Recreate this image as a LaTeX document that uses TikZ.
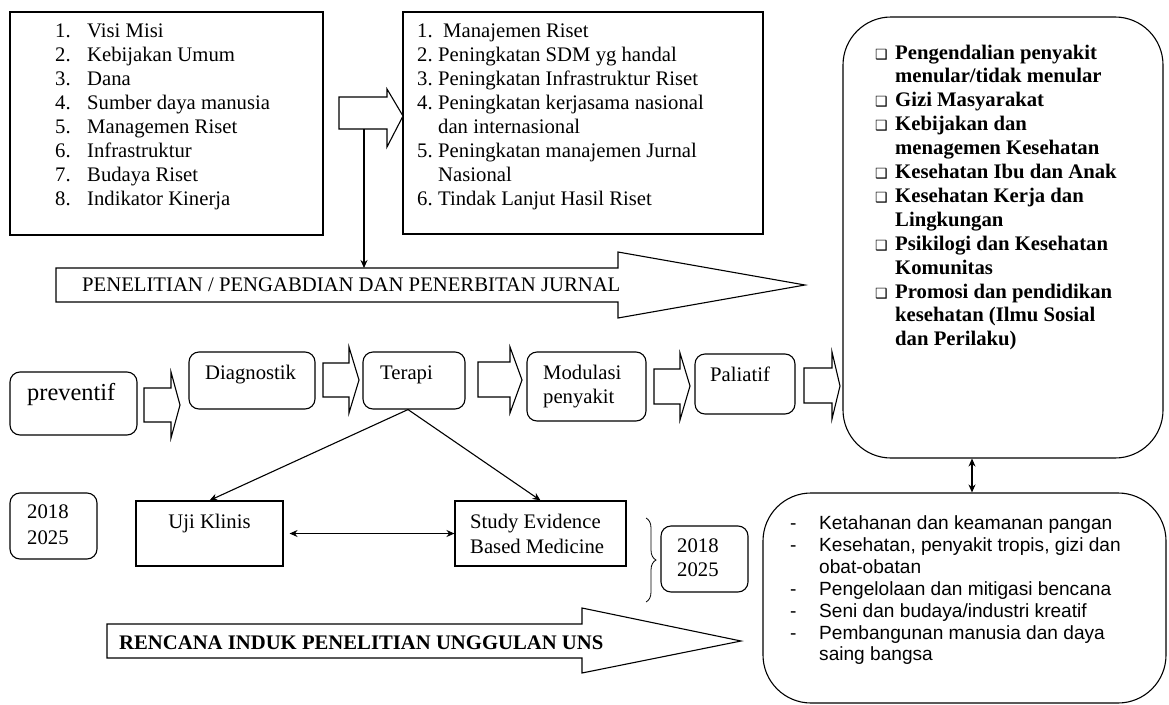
\documentclass[tikz,border=0pt]{standalone}
\usepackage{fontspec}
\setmainfont{Liberation Serif}
\setsansfont{Liberation Sans}
\newfontfamily\glyphfont{DejaVu Sans}
\usetikzlibrary{arrows.meta,decorations.pathreplacing}

\begin{document}
\begin{tikzpicture}[x=1pt,y=-1pt,>={Stealth[length=8pt,width=7pt]},
  every node/.style={inner sep=0pt,font=\fontsize{20.7}{24}\selectfont},
  frame/.style={draw,line width=1.1pt},
  soft/.style={draw,line width=1.1pt,rounded corners=10pt},
  bigsoft/.style={draw,line width=1.1pt,rounded corners=48pt},
  hollow/.style={draw,line width=1.1pt,fill=white,line join=miter},
  conn/.style={line width=1.1pt}]
  \useasboundingbox (0,0) rectangle (1169,704);

  % the two lists on top
  \node[frame,minimum width=313,minimum height=223] (faktor) at (166.5,123.5) {};
  \foreach \i/\txt in {1/Visi Misi, 2/Kebijakan Umum, 3/Dana, 4/Sumber daya manusia,
                       5/Managemen Riset, 6/Infrastruktur, 7/Budaya Riset, 8/Indikator Kinerja} {
    \node[anchor=base west] (faktor-n\i) at (55,13+24*\i) {\i.};
    \node[anchor=base west] (faktor-\i) at (87,13+24*\i) {\txt};
  }

  \node[frame,minimum width=360,minimum height=222] (program) at (583,123) {};
  \foreach \i/\num/\txt in {1/1./{\hspace{5pt}Manajemen Riset}, 2/2./Peningkatan SDM yg handal,
                            3/3./Peningkatan Infrastruktur Riset, 4/4./Peningkatan kerjasama nasional,
                            5/{}/dan internasional, 6/5./Peningkatan manajemen Jurnal,
                            7/{}/Nasional, 8/6./Tindak Lanjut Hasil Riset} {
    \node[anchor=base west] (program-n\i) at (417,13+24*\i) {\num};
    \node[anchor=base west] (program-\i) at (438,13+24*\i) {\txt};
  }

  % hollow block arrows
  \foreach \sx/\st/\sb/\hx/\ht/\hb/\tx/\ty in {339/97/129/387/89/147/403/116,
      144/388/422/171/372/438/180/405, 323/363/397/349/347/413/359/380,
      478/362/397/510/347/413/522/380, 654/369/404/680/353/420/690/386,
      804/368/403/832/352/419/840/386, 56/268/302/618/252/318/805/285,
      107/624/658/582/608/673/741/641}
    \draw[hollow] (\sx,\st) -- (\hx,\st) -- (\hx,\ht) -- (\tx,\ty) -- (\hx,\hb) -- (\hx,\sb) -- (\sx,\sb) -- cycle;

  \node[anchor=base west] (jurnal) at (82,291) {PENELITIAN / PENGABDIAN DAN PENERBITAN JURNAL};
  \node[anchor=base west,font=\fontsize{20.7}{24}\selectfont\bfseries] (rencana) at (119,649)
    {RENCANA INDUK PENELITIAN UNGGULAN UNS};

  % arrow down into the big arrow
  \coordinate (pivot) at (364,129);
  \coordinate (jurnal-top) at (364,268);
  \draw[conn,->] (pivot) -- (jurnal-top);

  % process row
  \node[soft,minimum width=127,minimum height=63] (preventif) at (73.5,403.5) {};
  \node[anchor=base west,font=\fontsize{24.4}{28}\selectfont] (preventif-txt) at (27,400) {preventif};
  \node[soft,minimum width=126,minimum height=57] (diagnostik) at (252,380.5) {};
  \node[anchor=base west] (diagnostik-txt) at (205,379) {Diagnostik};
  \node[soft,minimum width=102,minimum height=57] (terapi) at (414,380.5) {};
  \node[anchor=base west] (terapi-txt) at (380,379) {Terapi};
  \node[soft,minimum width=119,minimum height=69] (modulasi) at (586.5,386.5) {};
  \node[anchor=base west] (modulasi-txt) at (543,379) {Modulasi};
  \node[anchor=base west] (modulasi-txt2) at (543,403) {penyakit};
  \node[soft,minimum width=100,minimum height=60] (paliatif) at (745,384) {};
  \node[anchor=base west] (paliatif-txt) at (710,381) {Paliatif};

  % research boxes under Terapi
  \node[frame,minimum width=147,minimum height=65] (uji) at (209.5,533.5) {};
  \node[anchor=base] (uji-txt) at (209.5,528) {Uji Klinis};
  \node[frame,minimum width=171,minimum height=65] (study) at (540.5,533.5) {};
  \node[anchor=base west] (study-txt) at (470,528) {Study Evidence};
  \node[anchor=base west] (study-txt2) at (470,553) {Based Medicine};
  \draw[conn,->] ([xshift=-6]terapi.south) -- (uji.north);
  \draw[conn,->] ([xshift=-6]terapi.south) -- (study.north);
  \draw[conn,<->,shorten <=6pt] (uji.east) -- (study.west);

  % years
  \node[soft,minimum width=87,minimum height=66] (tahun1) at (53.5,526) {};
  \node[anchor=base west] (tahun1-a) at (27,518) {2018};
  \node[anchor=base west] (tahun1-b) at (27,544) {2025};
  \node[soft,minimum width=87,minimum height=66] (tahun2) at (704.5,559) {};
  \node[anchor=base west] (tahun2-a) at (677,552) {2018};
  \node[anchor=base west] (tahun2-b) at (677,576) {2025};
  \draw[line width=0.8pt,decorate,decoration={brace,amplitude=10pt}] (646,518) -- (646,602);

  % topics on the right
  \node[bigsoft,minimum width=320,minimum height=441] (bidang) at (1003,237.5) {};
  \foreach \i in {1,3,4,6,7,9,11}
    \node[anchor=base west,font=\glyphfont\fontsize{14}{14}\selectfont] (cek-\i) at (875,35.1+23.9*\i) {❑};
  \foreach \i/\txt in {1/Pengendalian penyakit, 2/{menular/tidak menular}, 3/Gizi Masyarakat,
                       4/Kebijakan dan, 5/menagemen Kesehatan, 6/Kesehatan Ibu dan Anak,
                       7/Kesehatan Kerja dan, 8/Lingkungan, 9/Psikilogi dan Kesehatan,
                       10/Komunitas, 11/Promosi dan pendidikan, 12/{kesehatan (Ilmu Sosial},
                       13/dan Perilaku)}
    \node[anchor=base west,font=\fontsize{20.7}{24}\selectfont\bfseries] (bidang-\i) at (895,35.1+23.9*\i) {\txt};

  \node[bigsoft,minimum width=403,minimum height=210] (unggulan) at (964.5,598) {};
  \foreach \i in {1,2,4,5,6}
    \node[anchor=base west,font=\sffamily\fontsize{19.1}{22}\selectfont] (strip-\i) at (790,507.6+21.9*\i) {-};
  \foreach \i/\txt in {1/Ketahanan dan keamanan pangan, 2/{Kesehatan, penyakit tropis, gizi dan},
                       3/obat-obatan, 4/Pengelolaan dan mitigasi bencana,
                       5/{Seni dan budaya/industri kreatif}, 6/Pembangunan manusia dan daya,
                       7/saing bangsa}
    \node[anchor=base west,font=\sffamily\fontsize{19.1}{22}\selectfont] (unggulan-\i) at (819,507.6+21.9*\i) {\txt};

  \coordinate (taut) at (972,0);
  \draw[conn,<->] (bidang.south -| taut) -- (unggulan.north -| taut);
\end{tikzpicture}
\end{document}
